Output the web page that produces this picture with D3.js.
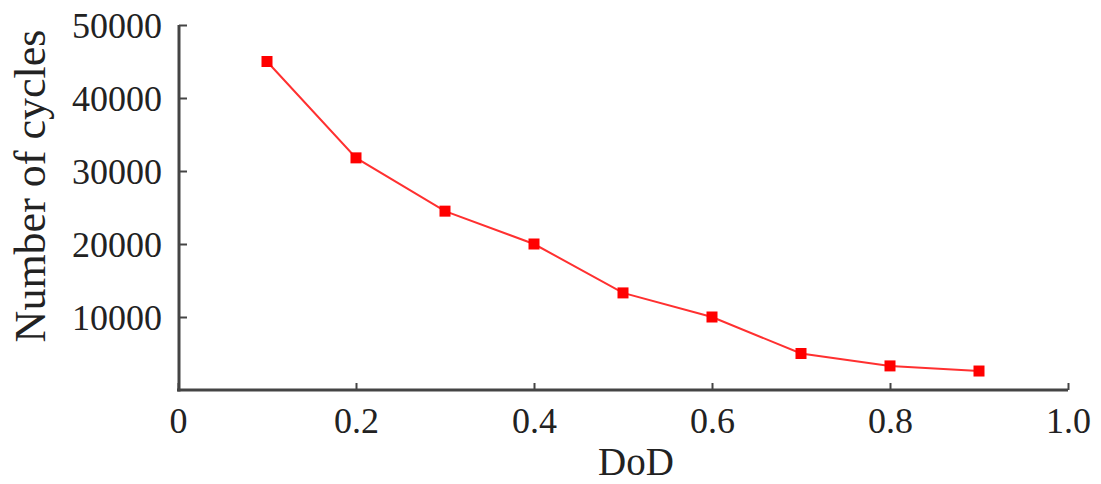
<!DOCTYPE html>
<html>
<head>
<meta charset="utf-8">
<script src="https://cdn.jsdelivr.net/npm/d3@7/dist/d3.min.js"></script>
<style>
html,body{margin:0;padding:0;background:#fff;}
svg{display:block;}
text{font-family:"Liberation Serif","Times New Roman",serif;fill:#222;}
</style>
</head>
<body>
<svg id="chart" width="1101" height="484"></svg>
<script>
const dod = [0.1, 0.2, 0.3, 0.4, 0.5, 0.6, 0.7, 0.8, 0.9];
const cycles = [45000, 31800, 24500, 20000, 13300, 10000, 5000, 3300, 2600];
const xTicks = [0, 0.2, 0.4, 0.6, 0.8, 1.0];
const xTickLabels = ["0", "0.2", "0.4", "0.6", "0.8", "1.0"];
const yTicks = [10000, 20000, 30000, 40000, 50000];
const xTitle = "DoD";
const yTitle = "Number of cycles";

const svg = d3.select("#chart");
const x = d3.scaleLinear().domain([0, 1.0]).range([178, 1068]);
const y = d3.scaleLinear().domain([0, 50000]).range([390, 25]);
const axisColor = "#444";

// X axis
const gx = svg.append("g").attr("transform", `translate(0,${y(0)})`)
  .call(d3.axisBottom(x).tickValues(xTicks).tickSizeInner(-7).tickSizeOuter(0)
    .tickFormat((d, i) => xTickLabels[i]));
gx.select(".domain").attr("stroke", axisColor).attr("stroke-width", 3)
  .attr("d", `M${x(0)-1},0H${x(1.0)}`);
gx.selectAll(".tick line").attr("stroke", axisColor).attr("stroke-width", 2);
gx.selectAll(".tick text").attr("font-size", 36).attr("fill", "#222")
  .attr("font-family", '"Liberation Serif", serif').attr("y", 0).attr("dy", "1.2em");

// Y axis
const gy = svg.append("g").attr("transform", `translate(${x(0)+1},0)`)
  .call(d3.axisLeft(y).tickValues(yTicks).tickSizeInner(-8).tickSizeOuter(0)
    .tickFormat(d3.format("d")));
gy.select(".domain").attr("stroke", axisColor).attr("stroke-width", 3)
  .attr("d", `M0,${y(50000)}V${y(0)+1.5}`);
gy.selectAll(".tick line").attr("stroke", axisColor).attr("stroke-width", 2);
gy.selectAll(".tick text").attr("font-size", 36).attr("fill", "#222")
  .attr("font-family", '"Liberation Serif", serif').attr("x", -17).attr("dy", "0.36em");

// Titles
svg.append("text").attr("x", 636).attr("y", 475).attr("text-anchor", "middle")
  .attr("font-size", 39).text(xTitle);
svg.append("text").attr("transform", `translate(45,186) rotate(-90)`)
  .attr("text-anchor", "middle").attr("font-size", 44).text(yTitle);

// Line
const line = d3.line().x((d, i) => x(dod[i])).y(d => y(d));
svg.append("path").datum(cycles).attr("d", line)
  .attr("fill", "none").attr("stroke", "#ff3030").attr("stroke-width", 2);

// Markers
const ms = 11;
svg.selectAll("rect.pt").data(cycles).enter().append("rect")
  .attr("class", "pt")
  .attr("x", (d, i) => x(dod[i]) - ms/2)
  .attr("y", d => y(d) - ms/2)
  .attr("width", ms).attr("height", ms)
  .attr("fill", "#ff0000");
</script>
</body>
</html>
